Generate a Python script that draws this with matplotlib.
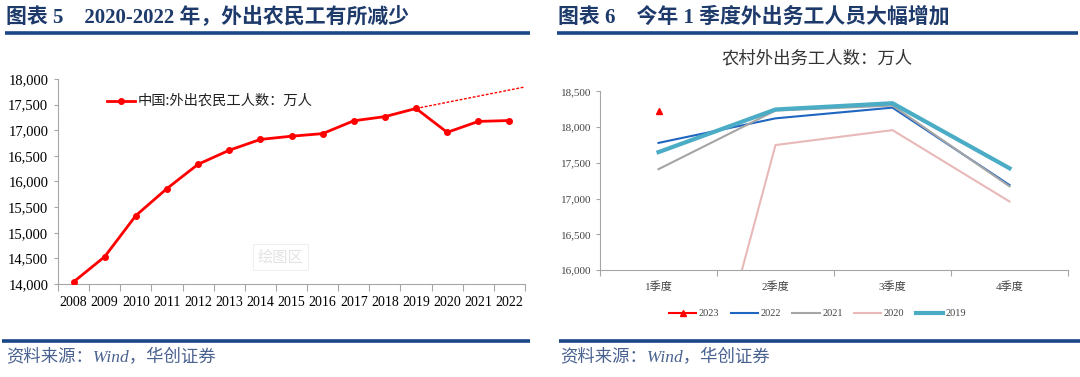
import matplotlib
matplotlib.use("Agg")
import matplotlib.pyplot as plt
from matplotlib.lines import Line2D
from matplotlib.ticker import FuncFormatter

# ---------------- data ----------------
years = [2008, 2009, 2010, 2011, 2012, 2013, 2014, 2015, 2016, 2017, 2018, 2019, 2020, 2021, 2022]
migrant_workers = [14041, 14533, 15335, 15863, 16336, 16610, 16821, 16884, 16934, 17185, 17266, 17425, 16959, 17172, 17190]
trend_pos = [11, 14.5]          # from 2019 to right edge
trend_vals = [17425, 17845]

quarters = ["1季度", "2季度", "3季度", "4季度"]
q_2023 = [18220]
q_2022 = [17780, 18124, 18274, 17190]
q_2021 = [17412, 18233, 18303, 17172]
q_2020 = [11652, 17750, 17959, 16959]
q_2019 = [17651, 18248, 18336, 17425]

left_title = "图表 5    2020-2022 年，外出农民工有所减少"
right_title = "图表 6    今年 1 季度外出务工人员大幅增加"
right_chart_title = "农村外出务工人数：万人"
legend_left = "中国:外出农民工人数：万人"
source = "资料来源：Wind，华创证券"

# ---------------- style ----------------
CJK = ["Noto Sans CJK SC", "DejaVu Sans"]
SERIF = ["Liberation Serif", "Noto Sans CJK SC"]
plt.rcParams["font.family"] = SERIF
NAVY = "#1d3a6b"
RULE = "#1b4787"
SRC = "#4a6290"
AXC = "#a6a6a6"

fig = plt.figure(figsize=(10.8, 3.77), dpi=100)
W, H = 1080, 377

def fx(x): return x / W
def fy(y): return 1 - y / H

# titles and rules
fig.text(fx(6), fy(17), left_title, family=SERIF,
         fontsize=15, fontweight="bold", color=NAVY, va="center", ha="left")
fig.text(fx(558), fy(17), right_title, family=SERIF,
         fontsize=15, fontweight="bold", color=NAVY, va="center", ha="left")
for x0, x1, y in [(5, 530, 33), (557, 1078, 33), (2, 530, 341), (559, 1080, 341)]:
    fig.add_artist(Line2D([fx(x0), fx(x1)], [fy(y), fy(y)], color=RULE, lw=2.6,
                          transform=fig.transFigure, solid_capstyle="butt"))
fig.text(fx(6), fy(358), source, family=SERIF,
         fontsize=12.5, color=SRC, style="italic", va="center", ha="left")
fig.text(fx(560), fy(358), source, family=SERIF,
         fontsize=12.5, color=SRC, style="italic", va="center", ha="left")

thousands = FuncFormatter(lambda v, p: f"{int(v):,}")

# ---------------- left chart ----------------
ax1 = fig.add_axes([fx(58), fy(284), fx(525 - 58), (284 - 79) / H])
xpos = list(range(len(years)))
ax1.plot(xpos, migrant_workers, color="#ff0000", lw=2, marker="o", ms=4, zorder=3)
ax1.plot(trend_pos, trend_vals, color="#ff0000", lw=1, ls=(0, (2, 1.2)), zorder=2)
ax1.set_xlim(-0.5, len(years) - 0.5)
ax1.set_ylim(14000, 18000)
ax1.set_yticks(range(14000, 18001, 500))
ax1.yaxis.set_major_formatter(thousands)
ax1.set_xticks([i - 0.5 for i in range(len(years) + 1)])
ax1.set_xticklabels([])
ax1.set_xticks(xpos, minor=True)
ax1.set_xticklabels([str(y) for y in years], minor=True)
ax1.tick_params(axis="x", which="major", direction="out", length=5, color=AXC)
ax1.tick_params(axis="x", which="minor", length=0, pad=9, labelsize=10)
ax1.tick_params(axis="y", direction="out", length=3, color=AXC, labelsize=10.5, pad=4)
for s in ["top", "right"]:
    ax1.spines[s].set_visible(False)
for s in ["left", "bottom"]:
    ax1.spines[s].set_color(AXC)
ax1.plot([1.07, 1.97], [17571, 17571], color="#ff0000", lw=2)
ax1.plot([1.52], [17571], "o", color="#ff0000", ms=4)
ax1.text(2.05, 17571, legend_left, family=CJK, fontsize=10.3, color="#222222", va="center")
ax1.text(6.66, 14527, "绘图区", family=CJK, fontsize=11, color="#e3e3e3", va="center",
         ha="center", bbox=dict(boxstyle="square,pad=0.3", fc="none", ec="#f0f0f0", lw=0.8))

# ---------------- right chart ----------------
fig.text(fx(817), fy(58.5), right_chart_title, family=CJK, fontsize=12.5, color="#333333",
         ha="center", va="center")
ax2 = fig.add_axes([fx(600), fy(270), fx(1068 - 600), (270 - 91.5) / H])
qpos = list(range(len(quarters)))
ax2.plot(qpos[:len(q_2023)], q_2023, color="#ff0000", lw=1.5, marker="^", ms=5, label="2023")
ax2.plot(qpos, q_2022, color="#1f66c1", lw=1.5, label="2022")
ax2.plot(qpos, q_2021, color="#a5a5a5", lw=1.5, label="2021")
ax2.plot(qpos, q_2020, color="#e8b9b8", lw=1.5, label="2020")
ax2.plot(qpos, q_2019, color="#4bacc6", lw=3, label="2019")
ax2.set_xlim(-0.5, len(quarters) - 0.5)
ax2.set_ylim(16000, 18500)
ax2.set_yticks(range(16000, 18501, 500))
ax2.yaxis.set_major_formatter(thousands)
ax2.set_xticks([i - 0.5 for i in range(len(quarters) + 1)])
ax2.set_xticklabels([])
ax2.set_xticks(qpos, minor=True)
ax2.set_xticklabels(quarters, minor=True, family=SERIF)
ax2.tick_params(axis="x", which="major", direction="out", length=4, color=AXC)
ax2.tick_params(axis="x", which="minor", length=0, pad=8, labelsize=8, labelcolor="#444444")
ax2.tick_params(axis="y", direction="out", length=3, color=AXC, labelsize=8,
                labelcolor="#444444", pad=3)
for s in ["top", "right"]:
    ax2.spines[s].set_visible(False)
for s in ["left", "bottom"]:
    ax2.spines[s].set_color(AXC)
ax2.legend(loc="center", bbox_to_anchor=(0.465, -0.245), ncol=5, frameon=False,
           fontsize=7.5, handlelength=2.6, columnspacing=1.1, handletextpad=0.25,
           labelcolor="#444444")

fig.savefig("out.png", dpi=100)
